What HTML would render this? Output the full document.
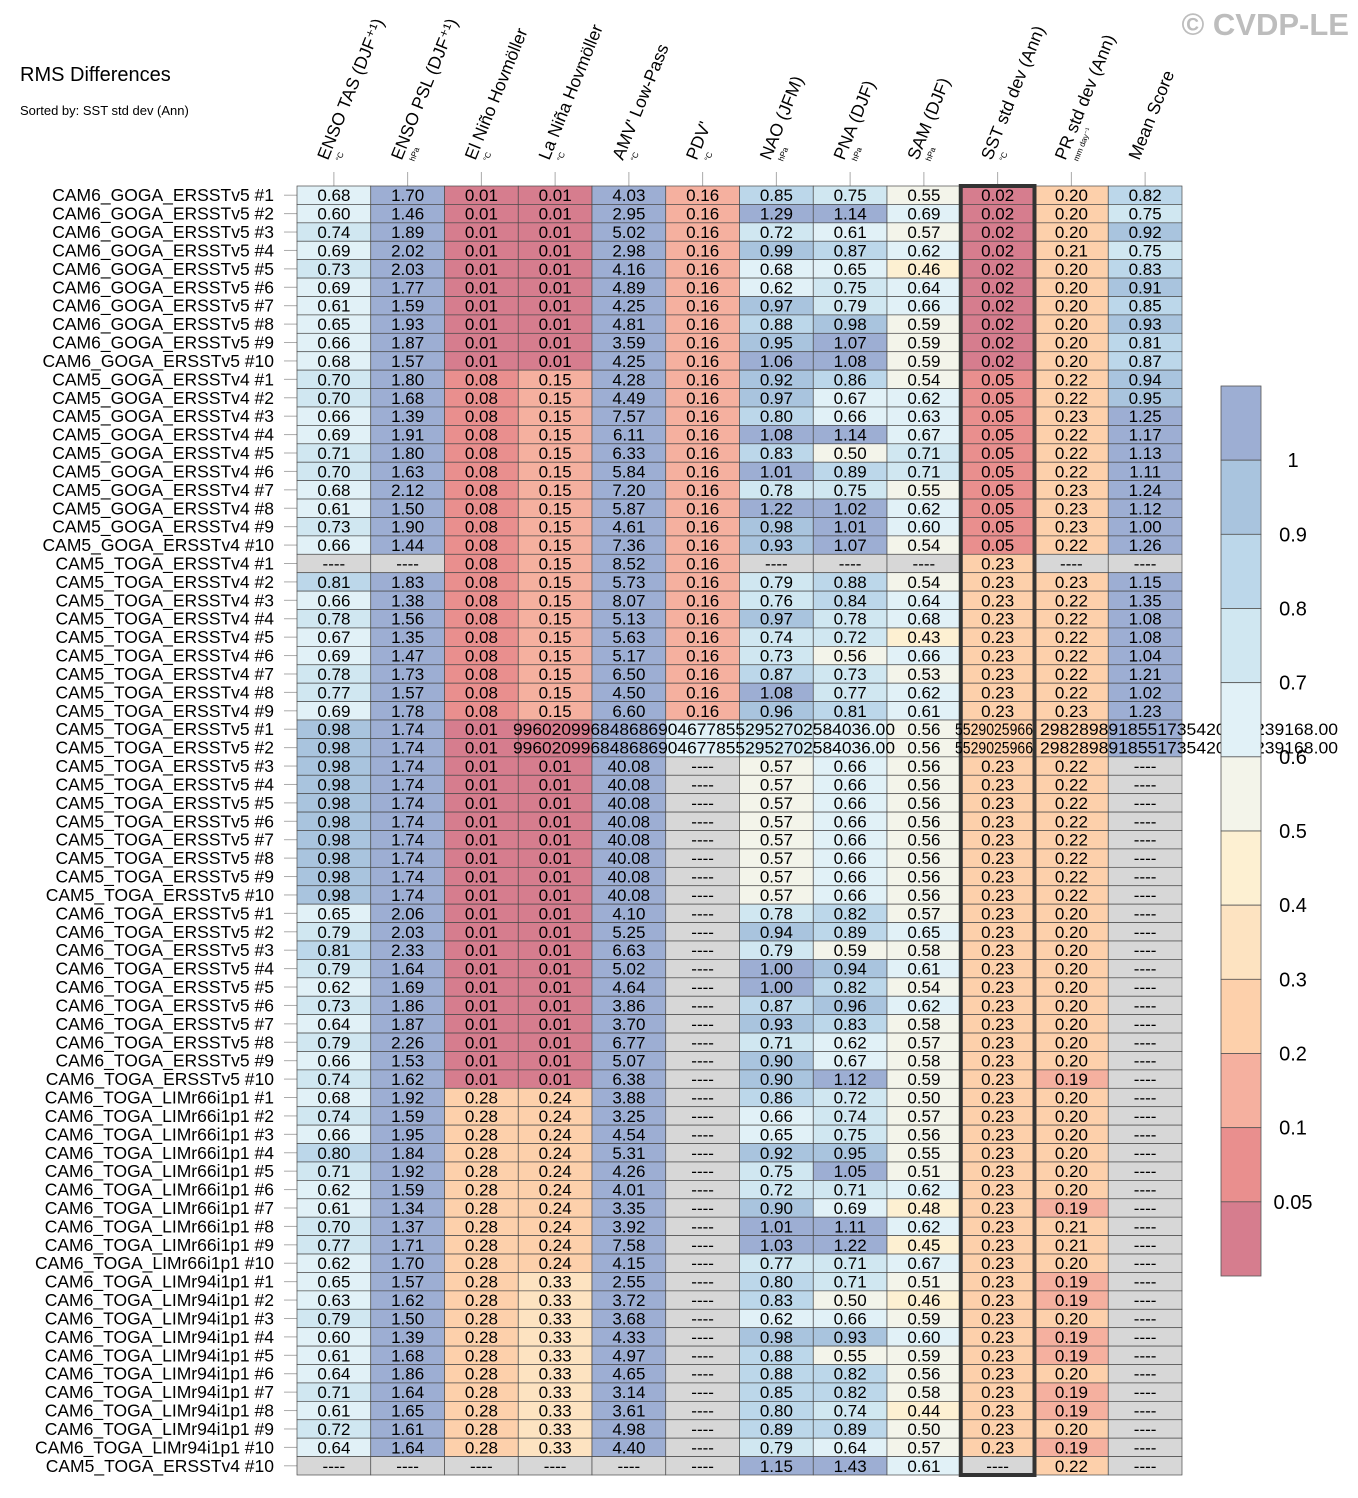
<!DOCTYPE html>
<html><head><meta charset="utf-8">
<style>
html,body{margin:0;padding:0;background:#fff;}
svg{display:block;font-family:"Liberation Sans",sans-serif;}
</style></head>
<body>
<svg id="chart" width="1358" height="1498" viewBox="0 0 1358 1498" xmlns="http://www.w3.org/2000/svg">
<text x="20" y="81" font-size="20" fill="#000">RMS Differences</text>
<text x="20" y="115" font-size="13" fill="#000">Sorted by: SST std dev (Ann)</text>
<text x="1349" y="35" font-size="31" font-weight="bold" fill="#bdbdbd" text-anchor="end">© CVDP-LE</text>
<g id="headers"></g>
<g id="rowlabels"></g>
<g id="cells"></g>
<g id="overlay"></g>
<g id="colorbar"></g>
</svg>
<script>
const columns = ["ENSO TAS (DJF⁺¹)","ENSO PSL (DJF⁺¹)","El Niño Hovmöller","La Niña Hovmöller","AMV' Low-Pass","PDV'","NAO (JFM)","PNA (DJF)","SAM (DJF)","SST std dev (Ann)","PR std dev (Ann)","Mean Score"];
const units = ["°C","hPa","°C","°C","°C","°C","hPa","hPa","hPa","°C","mm day⁻¹",""];
const rowNames = [];
["CAM6_GOGA_ERSSTv5","CAM5_GOGA_ERSSTv4"].forEach(g=>{for(let i=1;i<=10;i++)rowNames.push(g+" #"+i);});
for(let i=1;i<=9;i++)rowNames.push("CAM5_TOGA_ERSSTv4 #"+i);
["CAM5_TOGA_ERSSTv5","CAM6_TOGA_ERSSTv5","CAM6_TOGA_LIMr66i1p1","CAM6_TOGA_LIMr94i1p1"].forEach(g=>{for(let i=1;i<=10;i++)rowNames.push(g+" #"+i);});
rowNames.push("CAM5_TOGA_ERSSTv4 #10");
const N=null;
const values = [
[.68,1.70,.01,.01,4.03,.16,.85,.75,.55,.02,.20,.82],
[.60,1.46,.01,.01,2.95,.16,1.29,1.14,.69,.02,.20,.75],
[.74,1.89,.01,.01,5.02,.16,.72,.61,.57,.02,.20,.92],
[.69,2.02,.01,.01,2.98,.16,.99,.87,.62,.02,.21,.75],
[.73,2.03,.01,.01,4.16,.16,.68,.65,.46,.02,.20,.83],
[.69,1.77,.01,.01,4.89,.16,.62,.75,.64,.02,.20,.91],
[.61,1.59,.01,.01,4.25,.16,.97,.79,.66,.02,.20,.85],
[.65,1.93,.01,.01,4.81,.16,.88,.98,.59,.02,.20,.93],
[.66,1.87,.01,.01,3.59,.16,.95,1.07,.59,.02,.20,.81],
[.68,1.57,.01,.01,4.25,.16,1.06,1.08,.59,.02,.20,.87],
[.70,1.80,.08,.15,4.28,.16,.92,.86,.54,.05,.22,.94],
[.70,1.68,.08,.15,4.49,.16,.97,.67,.62,.05,.22,.95],
[.66,1.39,.08,.15,7.57,.16,.80,.66,.63,.05,.23,1.25],
[.69,1.91,.08,.15,6.11,.16,1.08,1.14,.67,.05,.22,1.17],
[.71,1.80,.08,.15,6.33,.16,.83,.50,.71,.05,.22,1.13],
[.70,1.63,.08,.15,5.84,.16,1.01,.89,.71,.05,.22,1.11],
[.68,2.12,.08,.15,7.20,.16,.78,.75,.55,.05,.23,1.24],
[.61,1.50,.08,.15,5.87,.16,1.22,1.02,.62,.05,.23,1.12],
[.73,1.90,.08,.15,4.61,.16,.98,1.01,.60,.05,.23,1.00],
[.66,1.44,.08,.15,7.36,.16,.93,1.07,.54,.05,.22,1.26],
[N,N,.08,.15,8.52,.16,N,N,N,.23,N,N],
[.81,1.83,.08,.15,5.73,.16,.79,.88,.54,.23,.23,1.15],
[.66,1.38,.08,.15,8.07,.16,.76,.84,.64,.23,.22,1.35],
[.78,1.56,.08,.15,5.13,.16,.97,.78,.68,.23,.22,1.08],
[.67,1.35,.08,.15,5.63,.16,.74,.72,.43,.23,.22,1.08],
[.69,1.47,.08,.15,5.17,.16,.73,.56,.66,.23,.22,1.04],
[.78,1.73,.08,.15,6.50,.16,.87,.73,.53,.23,.22,1.21],
[.77,1.57,.08,.15,4.50,.16,1.08,.77,.62,.23,.22,1.02],
[.69,1.78,.08,.15,6.60,.16,.96,.81,.61,.23,.23,1.23],
[.98,1.74,.01,.01,40.08,.65,.75,.66,.56,.23,.22,1.5],
[.98,1.74,.01,.01,40.08,.65,.75,.66,.56,.23,.22,1.5],
[.98,1.74,.01,.01,40.08,N,.57,.66,.56,.23,.22,N],
[.98,1.74,.01,.01,40.08,N,.57,.66,.56,.23,.22,N],
[.98,1.74,.01,.01,40.08,N,.57,.66,.56,.23,.22,N],
[.98,1.74,.01,.01,40.08,N,.57,.66,.56,.23,.22,N],
[.98,1.74,.01,.01,40.08,N,.57,.66,.56,.23,.22,N],
[.98,1.74,.01,.01,40.08,N,.57,.66,.56,.23,.22,N],
[.98,1.74,.01,.01,40.08,N,.57,.66,.56,.23,.22,N],
[.98,1.74,.01,.01,40.08,N,.57,.66,.56,.23,.22,N],
[.65,2.06,.01,.01,4.10,N,.78,.82,.57,.23,.20,N],
[.79,2.03,.01,.01,5.25,N,.94,.89,.65,.23,.20,N],
[.81,2.33,.01,.01,6.63,N,.79,.59,.58,.23,.20,N],
[.79,1.64,.01,.01,5.02,N,1.00,.94,.61,.23,.20,N],
[.62,1.69,.01,.01,4.64,N,1.00,.82,.54,.23,.20,N],
[.73,1.86,.01,.01,3.86,N,.87,.96,.62,.23,.20,N],
[.64,1.87,.01,.01,3.70,N,.93,.83,.58,.23,.20,N],
[.79,2.26,.01,.01,6.77,N,.71,.62,.57,.23,.20,N],
[.66,1.53,.01,.01,5.07,N,.90,.67,.58,.23,.20,N],
[.74,1.62,.01,.01,6.38,N,.90,1.12,.59,.23,.19,N],
[.68,1.92,.28,.24,3.88,N,.86,.72,.50,.23,.20,N],
[.74,1.59,.28,.24,3.25,N,.66,.74,.57,.23,.20,N],
[.66,1.95,.28,.24,4.54,N,.65,.75,.56,.23,.20,N],
[.80,1.84,.28,.24,5.31,N,.92,.95,.55,.23,.20,N],
[.71,1.92,.28,.24,4.26,N,.75,1.05,.51,.23,.20,N],
[.62,1.59,.28,.24,4.01,N,.72,.71,.62,.23,.20,N],
[.61,1.34,.28,.24,3.35,N,.90,.69,.48,.23,.19,N],
[.70,1.37,.28,.24,3.92,N,1.01,1.11,.62,.23,.21,N],
[.77,1.71,.28,.24,7.58,N,1.03,1.22,.45,.23,.21,N],
[.62,1.70,.28,.24,4.15,N,.77,.71,.67,.23,.20,N],
[.65,1.57,.28,.33,2.55,N,.80,.71,.51,.23,.19,N],
[.63,1.62,.28,.33,3.72,N,.83,.50,.46,.23,.19,N],
[.79,1.50,.28,.33,3.68,N,.62,.66,.59,.23,.20,N],
[.60,1.39,.28,.33,4.33,N,.98,.93,.60,.23,.19,N],
[.61,1.68,.28,.33,4.97,N,.88,.55,.59,.23,.19,N],
[.64,1.86,.28,.33,4.65,N,.88,.82,.56,.23,.20,N],
[.71,1.64,.28,.33,3.14,N,.85,.82,.58,.23,.19,N],
[.61,1.65,.28,.33,3.61,N,.80,.74,.44,.23,.19,N],
[.72,1.61,.28,.33,4.98,N,.89,.89,.50,.23,.20,N],
[.64,1.64,.28,.33,4.40,N,.79,.64,.57,.23,.19,N],
[N,N,N,N,N,N,1.15,1.43,.61,N,.22,N]
];
const brokenRows = [29,30];
const brokenText = ["9960209968486869046778552952702584036.00","5529025966","2982898918551735420655239168.00"];
const cbBounds = [1,0.9,0.8,0.7,0.6,0.5,0.4,0.3,0.2,0.1,0.05];
const cbLabels = ["1","0.9","0.8","0.7","0.6","0.5","0.4","0.3","0.2","0.1","0.05"];
const cbColors = ["#9daed3","#a9c4de","#bcd7ea","#d0e7f1","#e1f1f7","#f3f4ea","#fdf0d2","#fde3c1","#fdd0ab","#f5b09f","#e98f8e","#d67d8e"];

const NS="http://www.w3.org/2000/svg";
const X0=297, X1=1182, Y0=186, Y1=1475;
const cw=(X1-X0)/columns.length, rh=(Y1-Y0)/rowNames.length;
const xCol=i=>X0+i*cw, yRow=r=>Y0+r*rh;
function mk(tag,attrs,parent){const e=document.createElementNS(NS,tag);for(const k in attrs)e.setAttribute(k,attrs[k]);parent.appendChild(e);return e;}
function colorFor(v){if(v===null)return "#d7d7d7";for(let i=0;i<cbBounds.length;i++){if(v>=cbBounds[i])return cbColors[i];}return cbColors[cbColors.length-1];}

const hg=document.getElementById('headers');
columns.forEach((c,i)=>{
  const cx=xCol(i)+cw/2;
  const tk=mk('line',{x1:cx,x2:cx,y1:172,y2:186,stroke:'#aaa','stroke-width':1},hg);
  
  
  const g=mk('g',{transform:`translate(${cx-6},161) rotate(-68)`},hg);
  
  
  const t=mk('text',{x:0,y:0,'font-size':17.5,fill:'#000'},g);t.textContent=c;
  const u=mk('text',{x:4,y:12,'font-size':8,fill:'#000'},g);u.textContent=units[i];
});

const rg=document.getElementById('rowlabels');
rowNames.forEach((n,r)=>{
  const cy=yRow(r)+rh/2;
  const t=mk('text',{x:274,y:cy+6,'font-size':17.5,'text-anchor':'end',fill:'#000'},rg);
  
  
  t.textContent=n;
  const l=mk('line',{x1:284,x2:297,y1:cy,y2:cy,stroke:'#aaa','stroke-width':1},rg);
  
  
});

const cg=document.getElementById('cells');
values.forEach((row,r)=>{
  row.forEach((v,i)=>{
    const x=xCol(i),y=yRow(r);
    const rc=mk('rect',{x:x,y:y,width:cw,height:rh,fill:colorFor(v),stroke:'#4a4a4a','stroke-width':0.7},cg);
    
    
    let label = v===null ? '----' : v.toFixed(2);
    if(brokenRows.includes(r) && ![0,1,2,8].includes(i)) label='';
    if(label){
      const t=mk('text',{x:x+cw/2,y:y+rh/2+6,'font-size':17,'text-anchor':'middle',fill:'#000'},cg);
      
      
      t.textContent=label;
    }
  });
});
const sel=mk('rect',{x:xCol(9),y:Y0,width:cw,height:Y1-Y0,fill:'none',stroke:'#333','stroke-width':4},cg);



const bg=document.getElementById('colorbar');
const CBX=1221, CBW=40, CBY0=386, CBY1=1276, bh=(CBY1-CBY0)/cbColors.length;
cbColors.forEach((c,i)=>{
  const rc=mk('rect',{x:CBX,y:CBY0+i*bh,width:CBW,height:bh,fill:c,stroke:'#555','stroke-width':0.8},bg);
  
  
});
cbLabels.forEach((l,i)=>{
  const t=mk('text',{x:1293,y:CBY0+(i+1)*bh+7,'font-size':20,'text-anchor':'middle',fill:'#000'},bg);
  
  
  t.textContent=l;
});

const og=document.getElementById('overlay');
brokenRows.forEach(r=>{
  const y=yRow(r)+rh/2+6;
  const pos=[[513,382],[955,78],[1040,298]];
  brokenText.forEach((s,k)=>{
    const t=mk('text',{x:pos[k][0],y:y,'font-size':17,fill:'#000',textLength:pos[k][1],lengthAdjust:'spacingAndGlyphs'},og);
    
    
    t.textContent=s;
  });
});
</script>
</body></html>
